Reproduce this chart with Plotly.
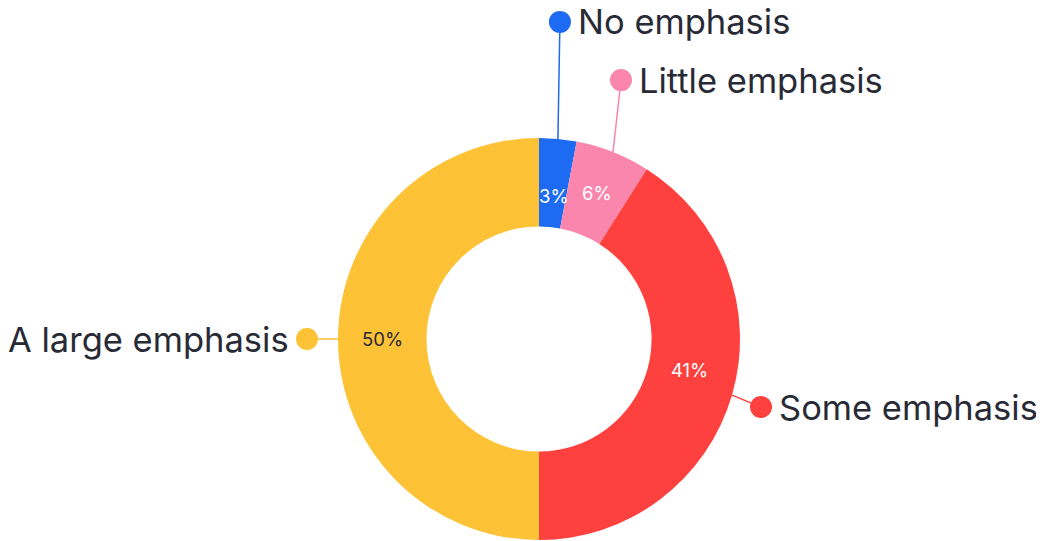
import math
import plotly.graph_objects as go

# ---- data ----
categories = ["No emphasis", "Little emphasis", "Some emphasis", "A large emphasis"]
values = [3, 6, 41, 50]
pct_labels = ["3%", "6%", "41%", "50%"]
colors = ["#1c6bf2", "#fa86ad", "#fe403e", "#fdc236"]
pct_text_colors = ["white", "white", "white", "#282a36"]

# ---- layout geometry (page pixels) ----
W, H = 1044, 541
PAGE_OFF = 8               # default body margin of the html page
CX, CY = 539, 339          # donut centre
R_OUT = 201
HOLE = 0.56
R_IN = R_OUT * HOLE
# per-label offset of the dot from the slice's outer edge (pixels)
dot_offsets = [(2, -117), (8, -72), (29, 12), (-31, 0)]
label_side = ["right", "right", "right", "left"]
TEXT = "#282a36"
FONT = "Inter"


def px_to_paper(x, y):
    return (x - PAGE_OFF) / W, 1 - (y - PAGE_OFF) / H


def polar(r, frac):
    a = 2 * math.pi * frac
    return CX + r * math.sin(a), CY - r * math.cos(a)


fig = go.Figure()
dx0, dy0 = px_to_paper(CX - R_OUT, CY + R_OUT)
dx1, dy1 = px_to_paper(CX + R_OUT, CY - R_OUT)
fig.add_trace(go.Pie(
    labels=categories, values=values, sort=False, direction="clockwise", rotation=0,
    hole=HOLE, marker=dict(colors=colors, line=dict(width=0)),
    textinfo="none", hoverinfo="label+percent", showlegend=False,
    domain=dict(x=[dx0, dx1], y=[dy0, dy1]),
))

total = sum(values)
cum = 0
shapes, annotations = [], []
for i, (cat, v) in enumerate(zip(categories, values)):
    mid = (cum + v / 2) / total
    cum += v
    # percentage label at mid-radius
    tx, ty = polar((R_OUT + R_IN) / 2, mid)
    px, py = px_to_paper(tx, ty)
    annotations.append(dict(x=px, y=py, xref="paper", yref="paper", text=pct_labels[i],
                            showarrow=False, font=dict(family=FONT, size=18.5, color=pct_text_colors[i])))
    # leader line
    ex, ey = polar(R_OUT, mid)
    ox, oy = dot_offsets[i]
    dxp, dyp = ex + ox, ey + oy
    a0 = px_to_paper(ex, ey)
    a1 = px_to_paper(dxp, dyp)
    shapes.append(dict(type="line", xref="paper", yref="paper", x0=a0[0], y0=a0[1], x1=a1[0], y1=a1[1],
                       line=dict(color=colors[i], width=1.5), layer="below"))
    rr = 11
    c0 = px_to_paper(dxp - rr, dyp + rr)
    c1 = px_to_paper(dxp + rr, dyp - rr)
    shapes.append(dict(type="circle", xref="paper", yref="paper", x0=c0[0], y0=c0[1], x1=c1[0], y1=c1[1],
                       fillcolor=colors[i], line=dict(width=0)))
    if label_side[i] == "right":
        lx, anchor = dxp + 16, "left"
    else:
        lx, anchor = dxp - 16, "right"
    lp = px_to_paper(lx, dyp)
    annotations.append(dict(x=lp[0], y=lp[1], xref="paper", yref="paper", text=cat, showarrow=False,
                            xanchor=anchor, yanchor="middle",
                            font=dict(family=FONT, size=34.5, color=TEXT)))

fig.update_layout(width=W, height=H, margin=dict(l=0, r=0, t=0, b=0),
                  paper_bgcolor="white", plot_bgcolor="white",
                  shapes=shapes, annotations=annotations)
fig.write_html("out.html")
